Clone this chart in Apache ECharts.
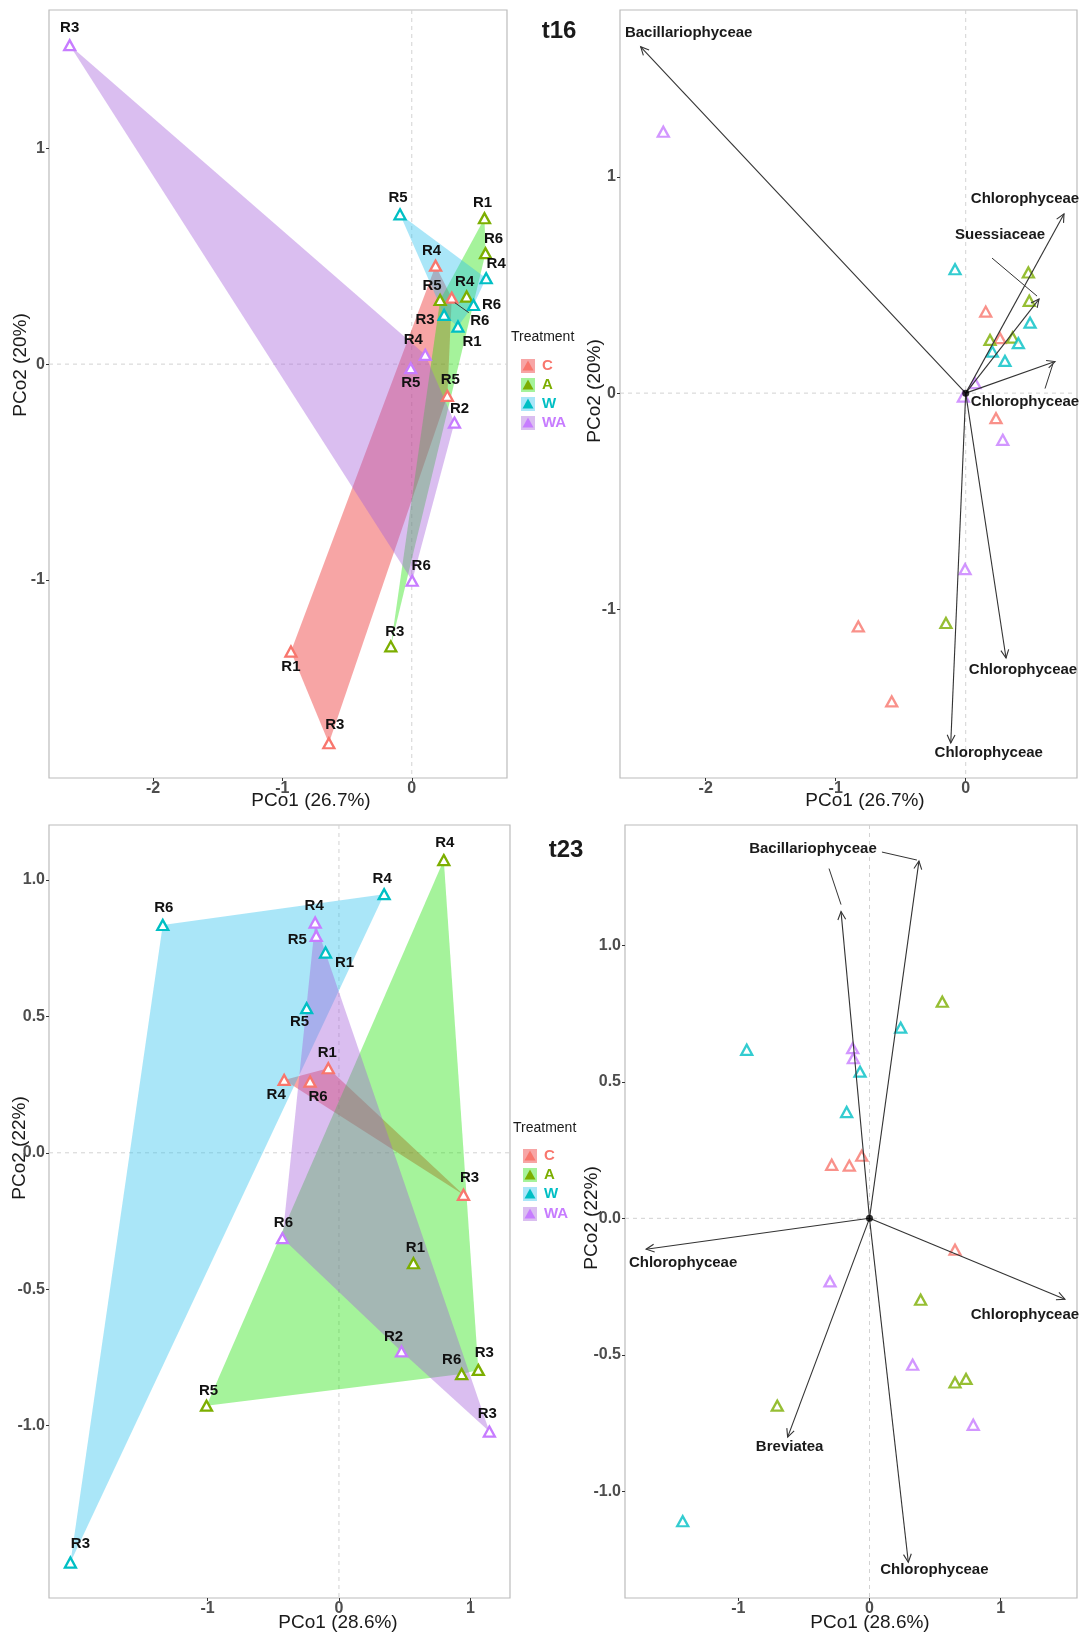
<!DOCTYPE html>
<html><head><meta charset="utf-8">
<script src="https://cdn.jsdelivr.net/npm/echarts@6/dist/echarts.min.js"></script>
<style>html,body{margin:0;padding:0;background:#fff}#c{width:1080px;height:1634px}</style>
</head><body><div id="c"></div>
<script>
// ---------------- DATA ----------------
const groups = ['C', 'A', 'W', 'WA'];

// t16 – sample ordination (left panel): [treatment, replicate, PCo1, PCo2]
const t16Samples = [
  ['C','R4',0.184,0.456], ['C','R6',0.309,0.308], ['C','R5',0.275,-0.147], ['C','R1',-0.934,-1.332], ['C','R3',-0.641,-1.757],
  ['A','R1',0.562,0.676], ['A','R6',0.570,0.514], ['A','R4',0.424,0.313], ['A','R5',0.219,0.297], ['A','R3',-0.162,-1.308],
  ['W','R5',-0.091,0.694], ['W','R4',0.575,0.398], ['W','R6',0.477,0.274], ['W','R3',0.250,0.228], ['W','R1',0.357,0.174],
  ['WA','R3',-2.644,1.478], ['WA','R4',0.104,0.043], ['WA','R5',-0.008,-0.019], ['WA','R2',0.330,-0.271], ['WA','R6',0.003,-1.004]
];
// t16 – biplot scores (right panel): [treatment, PCo1, PCo2]
const t16Scores = [
  ['C',0.154,0.377], ['C',0.264,0.254], ['C',0.233,-0.116], ['C',-0.826,-1.079], ['C',-0.569,-1.426],
  ['A',0.482,0.558], ['A',0.489,0.427], ['A',0.361,0.257], ['A',0.187,0.246], ['A',-0.152,-1.063],
  ['W',-0.082,0.573], ['W',0.495,0.326], ['W',0.405,0.231], ['W',0.205,0.192], ['W',0.302,0.149],
  ['WA',-2.326,1.209], ['WA',0.072,0.046], ['WA',-0.018,-0.016], ['WA',0.285,-0.216], ['WA',-0.005,-0.814]
];
// t16 – taxon vectors: [taxon, PCo1, PCo2]
const t16Arrows = [
  ['Bacillariophyceae',-2.50,1.602], ['Chlorophyceae',0.756,0.829], ['Suessiaceae',0.564,0.435],
  ['Chlorophyceae',0.687,0.146], ['Chlorophyceae',0.310,-1.225], ['Chlorophyceae',-0.115,-1.618]
];

// t23 – sample ordination (left panel)
const t23Samples = [
  ['C','R1',-0.081,0.310], ['C','R4',-0.417,0.267], ['C','R6',-0.220,0.261], ['C','R3',0.948,-0.154],
  ['A','R4',0.798,1.073], ['A','R1',0.567,-0.405], ['A','R6',0.934,-0.811], ['A','R3',1.061,-0.796], ['A','R5',-1.008,-0.927],
  ['W','R4',0.344,0.948], ['W','R6',-1.341,0.835], ['W','R1',-0.102,0.734], ['W','R5',-0.246,0.530], ['W','R3',-2.044,-1.502],
  ['WA','R4',-0.181,0.844], ['WA','R5',-0.173,0.795], ['WA','R6',-0.430,-0.313], ['WA','R2',0.476,-0.728], ['WA','R3',1.145,-1.022]
];
// t23 – biplot scores (right panel)
const t23Scores = [
  ['C',-0.059,0.229], ['C',-0.288,0.196], ['C',-0.154,0.193], ['C',0.652,-0.115],
  ['A',0.555,0.793], ['A',0.390,-0.298], ['A',0.652,-0.601], ['A',0.736,-0.588], ['A',-0.703,-0.686],
  ['W',0.238,0.698], ['W',-0.936,0.617], ['W',-0.072,0.537], ['W',-0.174,0.389], ['W',-1.424,-1.109],
  ['WA',-0.128,0.623], ['WA',-0.123,0.586], ['WA',-0.301,-0.231], ['WA',0.329,-0.536], ['WA',0.791,-0.756]
];
// t23 – taxon vectors
const t23Arrows = [
  ['Bacillariophyceae',0.377,1.308], ['Bacillariophyceae',-0.217,1.123], ['Chlorophyceae',-1.703,-0.113],
  ['Chlorophyceae',1.490,-0.296], ['Breviatea',-0.624,-0.801], ['Chlorophyceae',0.296,-1.259]
];
const origin = [0, 0];

// tick labels
const t16XTicks = [-2, -1, 0];
const t16YTicks = [-1, 0, 1];
const t23XTicks = [-1, 0, 1];
const t23YTicks = [-1, -0.5, 0, 0.5, 1];

// ---------------- STYLE / LAYOUT ----------------
const FONT = '"Liberation Sans", Arial, Helvetica, sans-serif';
const pointColors = ['#F8766D', '#7CAE00', '#00BFC4', '#C77CFF'];
const fillColors = ['rgba(235,30,30,0.4)', 'rgba(30,225,5,0.4)', 'rgba(42,192,237,0.4)', 'rgba(162,92,217,0.4)'];

// repel-style label offsets (px) for sample labels
const t16LabelOffsets = {
  'C-R4':[-4,-15], 'C-R6':[28,23], 'C-R5':[3,-16], 'C-R1':[0,15], 'C-R3':[6,-18],
  'A-R1':[-2,-15], 'A-R6':[8,-14], 'A-R4':[-2,-15], 'A-R5':[-8,-14], 'A-R3':[4,-15],
  'W-R5':[-2,-16], 'W-R4':[10,-14], 'W-R6':[18,0], 'W-R3':[-19,5], 'W-R1':[14,15],
  'WA-R3':[0,-17], 'WA-R4':[-12,-15], 'WA-R5':[0,15], 'WA-R2':[5,-14], 'WA-R6':[9,-15]
};
const t16Leaders = { 'C-R6':[3,5,17,15] };
const t23LabelOffsets = {
  'C-R1':[-1,-15], 'C-R4':[-8,15], 'C-R6':[8,15], 'C-R3':[6,-17],
  'A-R4':[1,-17], 'A-R1':[2,-15], 'A-R6':[-10,-14], 'A-R3':[6,-17], 'A-R5':[2,-15],
  'W-R4':[-2,-15], 'W-R6':[1,-17], 'W-R1':[19,10], 'W-R5':[-7,14], 'W-R3':[10,-19],
  'WA-R4':[-1,-17], 'WA-R5':[-19,4], 'WA-R6':[1,-15], 'WA-R2':[-8,-15], 'WA-R3':[-2,-18]
};
// arrow label layout: label centre offset from tip, optional leader segment (relative to tip)
const t16ArrowLayout = [
  {d:[48,-14]}, {d:[-39,-15]}, {d:[-39,-64], leader:[-47,-41,-2,-3]},
  {d:[-30,40], leader:[-10,27,-2,2]}, {d:[17,12]}, {d:[38,10]}
];
const t23ArrowLayout = [
  {d:[-106,-12], leader:[-37,-9,-2,-1]}, {d:[-28,-62], leader:[-12,-43,0,-7], shared:true}, {d:[37,14]},
  {d:[-40,16]}, {d:[2,10]}, {d:[26,8]}
];

const grids = [
  {left:49, top:10, width:458, height:768},
  {left:620, top:10, width:457, height:768},
  {left:49, top:825, width:461, height:773},
  {left:625, top:825, width:452, height:773}
];
const ranges = [
  {x:[-2.804,0.736], y:[-1.918,1.641]},
  {x:[-2.659,0.856], y:[-1.780,1.772]},
  {x:[-2.207,1.302], y:[-1.632,1.2016]},
  {x:[-1.864,1.582], y:[-1.390,1.440]}
];

// ---------------- HELPERS ----------------
function hull(pts) {
  const p = pts.slice().sort((a, b) => a[0] - b[0] || a[1] - b[1]);
  const cross = (o, a, b) => (a[0]-o[0])*(b[1]-o[1]) - (a[1]-o[1])*(b[0]-o[0]);
  const lower = [], upper = [];
  for (const q of p) { while (lower.length >= 2 && cross(lower[lower.length-2], lower[lower.length-1], q) <= 0) lower.pop(); lower.push(q); }
  for (let i = p.length-1; i >= 0; i--) { const q = p[i]; while (upper.length >= 2 && cross(upper[upper.length-2], upper[upper.length-1], q) <= 0) upper.pop(); upper.push(q); }
  upper.pop(); lower.pop();
  return lower.concat(upper);
}

function xAxis(gi, ticks, fmt) {
  return {
    type:'value', gridIndex:gi, min:ranges[gi].x[0], max:ranges[gi].x[1],
    splitLine:{show:false}, axisLine:{show:false, onZero:false},
    axisTick:{show:true, customValues:ticks, length:3, lineStyle:{color:'#333', width:1}},
    axisLabel:{customValues:ticks, margin:3, color:'#4d4d4d', fontSize:16, fontWeight:'bold', fontFamily:FONT, formatter:fmt}
  };
}
function yAxis(gi, ticks, fmt) {
  return {
    type:'value', gridIndex:gi, min:ranges[gi].y[0], max:ranges[gi].y[1],
    splitLine:{show:false}, axisLine:{show:false, onZero:false},
    axisTick:{show:true, customValues:ticks, length:3, lineStyle:{color:'#333', width:1}},
    axisLabel:{customValues:ticks, margin:4, color:'#4d4d4d', fontSize:16, fontWeight:'bold', fontFamily:FONT, formatter:fmt}
  };
}
const fmtInt = v => String(Math.round(v));
const fmt1 = v => (Math.abs(v) < 1e-9 ? 0 : v).toFixed(1);

function zeroLines(gi) {
  return {
    type:'custom', xAxisIndex:gi, yAxisIndex:gi, silent:true, z:0, data:[origin],
    renderItem:(params, api) => {
      const cs = params.coordSys; const o = api.coord([api.value(0), api.value(1)]);
      const st = {stroke:'#d2d2d2', lineWidth:1, lineDash:[4,4]};
      return {type:'group', children:[
        {type:'line', shape:{x1:o[0], y1:cs.y, x2:o[0], y2:cs.y+cs.height}, style:st},
        {type:'line', shape:{x1:cs.x, y1:o[1], x2:cs.x+cs.width, y2:o[1]}, style:st}
      ]};
    }
  };
}

function hullSeries(gi, samples) {
  const hulls = groups.map((g, k) => ({k, pts: hull(samples.filter(s => s[0] === g).map(s => [s[2], s[3]]))}));
  return {
    type:'custom', xAxisIndex:gi, yAxisIndex:gi, silent:true, z:1,
    data: hulls.map(h => h.pts[0]),
    renderItem:(params, api) => {
      const h = hulls[params.dataIndex];
      return {type:'polygon', shape:{points:h.pts.map(p => api.coord(p))}, style:{fill:fillColors[h.k], stroke:null}};
    }
  };
}

function sampleSeries(gi, samples, offsets) {
  return groups.map((g, k) => ({
    type:'scatter', xAxisIndex:gi, yAxisIndex:gi, z:3, name:g,
    symbol:'triangle', symbolSize:[11,10],
    itemStyle:{color:'#fff', borderColor:pointColors[k], borderWidth:2.3, opacity:1},
    label:{show:true, position:'inside', formatter:'{b}', color:'#111', fontSize:15, fontWeight:'bold', fontFamily:FONT, textBorderWidth:0},
    emphasis:{disabled:true},
    data: samples.filter(s => s[0] === g).map(s => ({name:s[1], value:[s[2], s[3]], label:{offset: offsets[g + '-' + s[1]] || [0,-15]}}))
  }));
}

function leaderSeries(gi, samples, leaders) {
  const items = samples.filter(s => leaders[s[0] + '-' + s[1]]);
  return {
    type:'custom', xAxisIndex:gi, yAxisIndex:gi, silent:true, z:4,
    data: items.map(s => [s[2], s[3]]),
    renderItem:(params, api) => {
      const s = items[params.dataIndex]; const l = leaders[s[0] + '-' + s[1]];
      const p = api.coord([api.value(0), api.value(1)]);
      return {type:'line', shape:{x1:p[0]+l[0], y1:p[1]+l[1], x2:p[0]+l[2], y2:p[1]+l[3]}, style:{stroke:'#333', lineWidth:1}};
    }
  };
}

function scoreSeries(gi, scores) {
  return groups.map((g, k) => ({
    type:'scatter', xAxisIndex:gi, yAxisIndex:gi, z:3, name:g,
    symbol:'triangle', symbolSize:[11,10],
    itemStyle:{color:'#fff', borderColor:pointColors[k], borderWidth:2.3},
    emphasis:{disabled:true},
    data: scores.filter(s => s[0] === g).map(s => [s[1], s[2]])
  }));
}

function arrowSeries(gi, arrows, layout) {
  return {
    type:'custom', xAxisIndex:gi, yAxisIndex:gi, silent:true, z:4,
    data: arrows.map(a => [a[1], a[2]]),
    renderItem:(params, api) => {
      const i = params.dataIndex;
      const o = api.coord(origin);
      const t = api.coord([api.value(0), api.value(1)]);
      const ang = Math.atan2(t[1]-o[1], t[0]-o[0]);
      const L = 9, A = 0.45;
      const h1 = [t[0] - L*Math.cos(ang - A), t[1] - L*Math.sin(ang - A)];
      const h2 = [t[0] - L*Math.cos(ang + A), t[1] - L*Math.sin(ang + A)];
      const lay = layout[i];
      const st = {stroke:'#333', lineWidth:1.1, fill:null};
      const ch = [
        {type:'line', shape:{x1:o[0], y1:o[1], x2:t[0], y2:t[1]}, style:st},
        {type:'polyline', shape:{points:[h1, t, h2]}, style:st}
      ];
      if (!lay.shared) ch.push({type:'text', style:{text:arrows[i][0], x:t[0]+lay.d[0], y:t[1]+lay.d[1], fill:'#1a1a1a',
          font:'bold 15px ' + FONT, align:'center', verticalAlign:'middle'}});
      if (lay.leader) ch.push({type:'line', shape:{x1:t[0]+lay.leader[0], y1:t[1]+lay.leader[1], x2:t[0]+lay.leader[2], y2:t[1]+lay.leader[3]}, style:{stroke:'#333', lineWidth:1}});
      return {type:'group', children:ch};
    }
  };
}

function originSeries(gi) {
  return {type:'scatter', xAxisIndex:gi, yAxisIndex:gi, z:5, symbol:'circle', symbolSize:7,
    itemStyle:{color:'#000'}, emphasis:{disabled:true}, data:[origin]};
}

function legendGraphics(x0, titleY, rowYs) {
  const els = [{type:'text', left:x0, top:titleY - 9, style:{text:'Treatment', fill:'#1a1a1a', font:'14px ' + FONT}}];
  groups.forEach((g, k) => {
    const y = rowYs[k];
    els.push({type:'rect', shape:{x:x0+10, y:y-7, width:14, height:14}, style:{fill:fillColors[k]}});
    els.push({type:'polygon', shape:{points:[[x0+17, y-5.5], [x0+11.5, y+4.5], [x0+22.5, y+4.5]]}, style:{fill:pointColors[k]}});
    els.push({type:'text', x:x0+31, y:y, style:{text:g, fill:pointColors[k], font:'bold 15px ' + FONT, verticalAlign:'middle'}});
  });
  return els;
}
function titleText(text, cx, cy, font, rot) {
  return {type:'text', x:cx, y:cy, rotation:rot || 0,
    style:{text, fill:'#1a1a1a', font, align:'center', verticalAlign:'middle'}};
}

// ---------------- CHART ----------------
const chart = echarts.init(document.getElementById('c'), null, {renderer:'canvas'});
const option = {
  animation:false,
  backgroundColor:'#fff',
  grid: grids.map(g => Object.assign({show:true, borderColor:'#bcbcbc', borderWidth:1.2, backgroundColor:'transparent'}, g)),
  xAxis: [xAxis(0, t16XTicks, fmtInt), xAxis(1, t16XTicks, fmtInt), xAxis(2, t23XTicks, fmtInt), xAxis(3, t23XTicks, fmtInt)],
  yAxis: [yAxis(0, t16YTicks, fmtInt), yAxis(1, t16YTicks, fmtInt), yAxis(2, t23YTicks, fmt1), yAxis(3, t23YTicks, fmt1)],
  series: [
    zeroLines(0), zeroLines(1), zeroLines(2), zeroLines(3),
    hullSeries(0, t16Samples), hullSeries(2, t23Samples),
    ...sampleSeries(0, t16Samples, t16LabelOffsets), leaderSeries(0, t16Samples, t16Leaders),
    ...sampleSeries(2, t23Samples, t23LabelOffsets),
    ...scoreSeries(1, t16Scores), arrowSeries(1, t16Arrows, t16ArrowLayout), originSeries(1),
    ...scoreSeries(3, t23Scores), arrowSeries(3, t23Arrows, t23ArrowLayout), originSeries(3)
  ],
  graphic: [
    titleText('t16', 559, 31, 'bold 24px ' + FONT),
    titleText('t23', 566, 850, 'bold 24px ' + FONT),
    titleText('PCo1 (26.7%)', 311, 801, '19px ' + FONT),
    titleText('PCo1 (26.7%)', 865, 801, '19px ' + FONT),
    titleText('PCo1 (28.6%)', 338, 1623, '19px ' + FONT),
    titleText('PCo1 (28.6%)', 870, 1623, '19px ' + FONT),
    titleText('PCo2 (20%)', 21, 365, '19px ' + FONT, Math.PI/2),
    titleText('PCo2 (20%)', 595, 391, '19px ' + FONT, Math.PI/2),
    titleText('PCo2 (22%)', 20, 1148, '19px ' + FONT, Math.PI/2),
    titleText('PCo2 (22%)', 592, 1218, '19px ' + FONT, Math.PI/2),
    ...legendGraphics(511, 339, [366, 385, 404, 423]),
    ...legendGraphics(513, 1130, [1156, 1175, 1194, 1214])
  ]
};
chart.setOption(option);
</script>
</body></html>
